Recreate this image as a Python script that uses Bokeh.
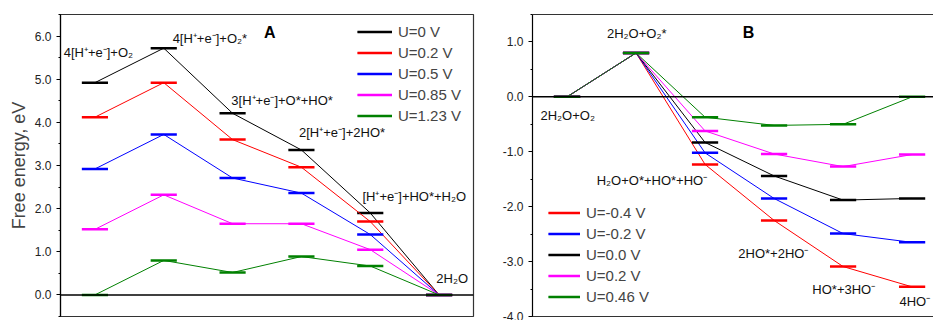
from bokeh.plotting import figure
from bokeh.models import (Span, Legend, LegendItem, LinearAxis, SingleIntervalTicker,
                          NumeralTickFormatter, Range1d, ColumnDataSource, FixedTicker)
from bokeh.layouts import row
from bokeh.embed import file_html
from bokeh.resources import INLINE
from bokeh.core.properties import value

# ---------------- data: panel A ----------------
steps = [1, 2, 3, 4, 5, 6]
series_a_labels = ["U=0 V", "U=0.2 V", "U=0.5 V", "U=0.85 V", "U=1.23 V"]
a_u0 = [4.92, 5.72, 4.21, 3.36, 1.90, 0.0]
a_u02 = [4.12, 4.92, 3.60, 2.96, 1.70, 0.0]
a_u05 = [2.92, 3.72, 2.71, 2.36, 1.40, 0.0]
a_u085 = [1.52, 2.32, 1.65, 1.65, 1.05, 0.0]
a_u123 = [0.0, 0.80, 0.52, 0.89, 0.67, 0.0]
states_a = ["4[H⁺+e⁻]+O₂", "4[H⁺+e⁻]+O₂*", "3[H⁺+e⁻]+O*+HO*",
            "2[H⁺+e⁻]+2HO*", "[H⁺+e⁻]+HO*+H₂O", "2H₂O"]
yticks_a = [0, 1, 2, 3, 4, 5, 6]

# ---------------- data: panel B ----------------
series_b_labels = ["U=-0.4 V", "U=-0.2 V", "U=0.0 V", "U=0.2 V", "U=0.46 V"]
b_m04 = [0.0, 0.80, -1.23, -2.25, -3.09, -3.46]
b_m02 = [0.0, 0.80, -1.02, -1.85, -2.49, -2.65]
b_u0 = [0.0, 0.80, -0.83, -1.44, -1.88, -1.85]
b_u02 = [0.0, 0.80, -0.62, -1.04, -1.27, -1.05]
b_u046 = [0.0, 0.80, -0.37, -0.52, -0.50, 0.0]
states_b = ["2H₂O+O₂", "2H₂O+O₂*", "H₂O+O*+HO*+HO⁻", "2HO*+2HO⁻", "HO*+3HO⁻", "4HO⁻"]
yticks_b = [-4, -3, -2, -1, 0, 1]

# ---------------- styles / layout ----------------
FONT = "Liberation Sans"
colors_a = ["#000000", "#ff0000", "#0000ff", "#ff00ff", "#008000"]
colors_b = ["#ff0000", "#0000ff", "#000000", "#ff00ff", "#008000"]
HALF = 0.19  # half width of energy level bars in x units

# label anchor positions (x, y in data units) - layout only
pos_a = [(1.05, 5.62), (2.67, 5.95), (3.72, 4.51), (4.59, 3.77), (5.64, 2.27), (6.19, 0.38)]
pos_b = [(1.01, -0.34), (2.01, 1.16), (2.23, -1.53), (3.99, -2.85), (5.01, -3.50), (6.04, -3.72)]


def style_y(p, ticks):
    ax = p.yaxis[0]
    ax.ticker = SingleIntervalTicker(interval=1, num_minor_ticks=2)
    ax.formatter = NumeralTickFormatter(format="0.0")
    ax.major_tick_in = 0
    ax.major_tick_out = 4
    ax.minor_tick_in = 0
    ax.minor_tick_out = 2
    ax.major_label_standoff = 5
    ax.major_label_text_font = FONT
    ax.major_label_text_font_size = "12px"
    ax.major_label_text_color = "#222222"
    ax.axis_line_color = "black"
    ax.axis_line_width = 1.2


def draw_series(p, values, color):
    xs = steps
    src = ColumnDataSource(dict(x=xs, y=values,
                                x0=[x - HALF for x in xs], x1=[x + HALF for x in xs]))
    ln = p.line("x", "y", source=src, line_color=color, line_width=1)
    sg = p.segment(x0="x0", y0="y", x1="x1", y1="y", source=src,
                   line_color=color, line_width=2.5)
    return [ln, sg]


def add_labels(p, texts, positions):
    src = ColumnDataSource(dict(x=[q[0] for q in positions], y=[q[1] for q in positions], t=texts))
    p.text("x", "y", text="t", source=src, text_font=value(FONT), text_font_size="13px",
           text_align="center", text_baseline="middle", text_color="#111111")


def make_legend(p, items, loc, gw):
    leg = Legend(items=items, location=loc, orientation="vertical",
                 border_line_color=None, background_fill_alpha=0,
                 label_text_font=FONT, label_text_font_size="15px",
                 glyph_width=gw, glyph_height=15, label_height=15, spacing=4,
                 padding=0, margin=0, label_standoff=6)
    p.add_layout(leg)


# ---------------- panel A ----------------
pa = figure(width=490, height=320, output_backend="svg", toolbar_location=None,
            x_range=Range1d(0.5, 6.5), y_range=Range1d(-0.5, 6.5),
            x_axis_type=None, min_border_left=60, min_border_right=17,
            min_border_top=14, min_border_bottom=4)
pa.grid.visible = False
pa.outline_line_color = "#333333"
pa.outline_line_width = 1.2
style_y(pa, yticks_a)
pa.yaxis[0].axis_label = "Free energy, eV"
pa.yaxis[0].axis_label_text_font = FONT
pa.yaxis[0].axis_label_text_font_style = "normal"
pa.yaxis[0].axis_label_text_font_size = "18px"
pa.yaxis[0].axis_label_standoff = 3
pa.add_layout(Span(location=0, dimension="width", line_color="black", line_width=1.5))

items_a = []
for lab, vals, col in zip(series_a_labels, [a_u0, a_u02, a_u05, a_u085, a_u123], colors_a):
    rs = draw_series(pa, vals, col)
    items_a.append(LegendItem(label=lab, renderers=rs))
add_labels(pa, states_a, pos_a)
pa.text(x=[3.54], y=[6.08], text=["A"], text_font=value(FONT), text_font_size="16px",
        text_font_style="bold", text_align="center", text_baseline="middle")
make_legend(pa, items_a, (297, 192), 35)

# ---------------- panel B ----------------
pb = figure(width=443, height=320, output_backend="svg", toolbar_location=None,
            x_range=Range1d(0.5, 6.31), y_range=Range1d(-4, 1.5),
            x_axis_type=None, min_border_left=42, min_border_right=0,
            min_border_top=14, min_border_bottom=4)
pb.grid.visible = False
pb.outline_line_color = None
style_y(pb, yticks_b)
for place in ("above", "below"):
    ax = LinearAxis(ticker=FixedTicker(ticks=[]), major_tick_line_color=None,
                    minor_tick_line_color=None, axis_line_color="#333333",
                    axis_line_width=1.2, major_label_standoff=0)
    pb.add_layout(ax, place)
pb.add_layout(Span(location=0, dimension="width", line_color="black", line_width=1.5))

items_b = []
for lab, vals, col in zip(series_b_labels, [b_m04, b_m02, b_u0, b_u02, b_u046], colors_b):
    rs = draw_series(pb, vals, col)
    items_b.append(LegendItem(label=lab, renderers=rs))
add_labels(pb, states_b, pos_b)
pb.text(x=[3.63], y=[1.18], text=["B"], text_font=value(FONT), text_font_size="16px",
        text_font_style="bold", text_align="center", text_baseline="middle")
make_legend(pb, items_b, (16, 11), 32)

layout = row(pa, pb, spacing=0)
open("out.html", "w").write(file_html(layout, INLINE))
